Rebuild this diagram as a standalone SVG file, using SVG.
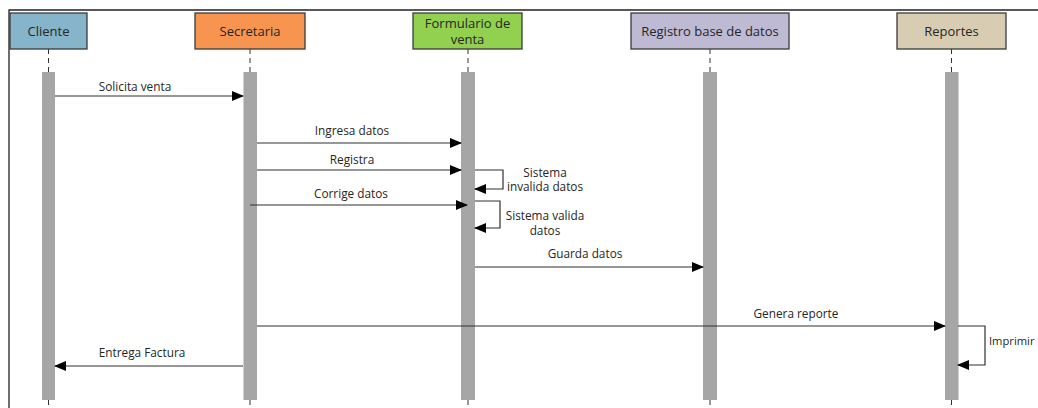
<svg xmlns="http://www.w3.org/2000/svg" width="1038" height="408" viewBox="0 0 1038 408">
<defs>
<style>
text{font-family:"Open Sans","Noto Sans",sans-serif;font-size:11.8px;fill:#262626}
text.h{font-size:13px}
.hdr{stroke:#3a3a3a;stroke-width:1.3}
.life{stroke:#333;stroke-width:1;stroke-dasharray:5,4}
.bar{fill:#a6a6a6}
.msg{stroke:#303030;stroke-width:1.2;fill:none}
</style>
<marker id="ah" markerWidth="12" markerHeight="10" refX="11" refY="5" orient="auto" markerUnits="userSpaceOnUse">
<path d="M0,0 L12,5 L0,10 Z" fill="#000"/>
</marker>
</defs>
<rect width="1038" height="408" fill="#fff"/>
<path d="M9,408 V10 H1038" fill="none" stroke="#222" stroke-width="1.3"/>

<g id="cliente">
<rect class="hdr" x="10" y="13" width="77" height="36" fill="#86b4cb"/>
<text class="h" x="48.5" y="36" text-anchor="middle">Cliente</text>
<line class="life" x1="48.5" y1="49" x2="48.5" y2="408"/>
<rect class="bar" x="42" y="72" width="13" height="328"/>
</g>
<g id="secretaria">
<rect class="hdr" x="195" y="13" width="110" height="36" fill="#f79550"/>
<text class="h" x="250" y="36" text-anchor="middle">Secretaria</text>
<line class="life" x1="250" y1="49" x2="250" y2="408"/>
<rect class="bar" x="243.5" y="72" width="13.5" height="328"/>
</g>
<g id="formulario">
<rect class="hdr" x="413" y="13" width="109" height="36" fill="#92d050"/>
<text class="h" x="467.5" y="28" text-anchor="middle">Formulario de</text>
<text class="h" x="467.5" y="44" text-anchor="middle">venta</text>
<line class="life" x1="468" y1="49" x2="468" y2="408"/>
<rect class="bar" x="461" y="72" width="14" height="328"/>
</g>
<g id="registro">
<rect class="hdr" x="631" y="13" width="158" height="36" fill="#bfbad3"/>
<text class="h" x="710" y="36" text-anchor="middle">Registro base de datos</text>
<line class="life" x1="710" y1="49" x2="710" y2="408"/>
<rect class="bar" x="703" y="72" width="14" height="328"/>
</g>
<g id="reportes">
<rect class="hdr" x="897" y="13" width="109" height="36" fill="#d8cdb2"/>
<text class="h" x="951.5" y="36" text-anchor="middle">Reportes</text>
<line class="life" x1="951.5" y1="49" x2="951.5" y2="408"/>
<rect class="bar" x="945" y="72" width="13.5" height="328"/>
</g>

<g id="connectors">
<line class="msg" x1="55" y1="96" x2="243" y2="96" marker-end="url(#ah)"/>
<line class="msg" x1="257" y1="143" x2="461" y2="143" marker-end="url(#ah)"/>
<line class="msg" x1="257" y1="170" x2="461" y2="170" marker-end="url(#ah)"/>
<polyline class="msg" points="475,170 503,170 503,189 475,189" marker-end="url(#ah)"/>
<line class="msg" x1="250" y1="205" x2="467" y2="205" marker-end="url(#ah)"/>
<polyline class="msg" points="475,201 500,201 500,228 475,228" marker-end="url(#ah)"/>
<line class="msg" x1="475" y1="267" x2="703" y2="267" marker-end="url(#ah)"/>
<line class="msg" x1="257" y1="326" x2="945" y2="326" marker-end="url(#ah)"/>
<polyline class="msg" points="958,326 985,326 985,365 958,365" marker-end="url(#ah)"/>
<line class="msg" x1="243" y1="366" x2="55" y2="366" marker-end="url(#ah)"/>
</g>

<g id="labels">
<text x="135" y="91" text-anchor="middle">Solicita venta</text>
<text x="352" y="135" text-anchor="middle">Ingresa datos</text>
<text x="352" y="164" text-anchor="middle">Registra</text>
<text x="545" y="177" text-anchor="middle">Sistema</text>
<text x="545" y="191" text-anchor="middle">invalida datos</text>
<text x="351" y="198" text-anchor="middle">Corrige datos</text>
<text x="545" y="220" text-anchor="middle">Sistema valida</text>
<text x="545" y="235" text-anchor="middle">datos</text>
<text x="585" y="258" text-anchor="middle">Guarda datos</text>
<text x="796" y="318" text-anchor="middle">Genera reporte</text>
<text x="989" y="345" style="font-size:11.2px">Imprimir</text>
<text x="142" y="357" text-anchor="middle">Entrega Factura</text>
</g>
</svg>
